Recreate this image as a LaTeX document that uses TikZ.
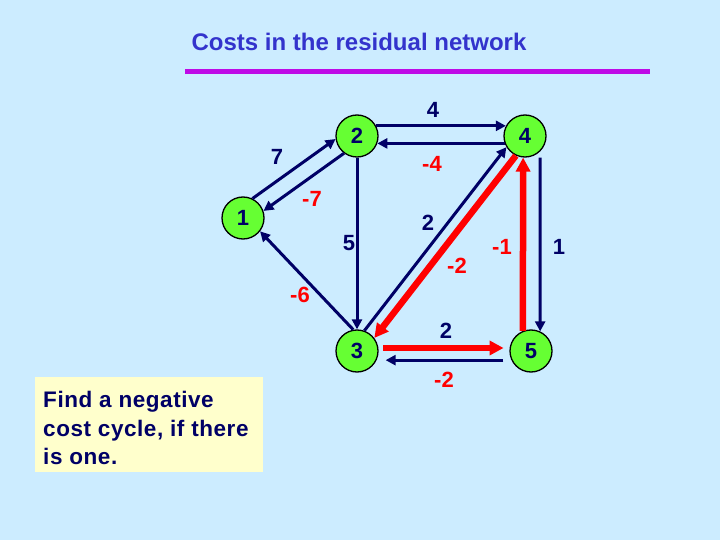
\documentclass[tikz,border=0pt]{standalone}
\usepackage{fontspec}
\setmainfont{Liberation Sans}
\newfontfamily\notefont[LetterSpace=2.5]{Liberation Sans}
\usetikzlibrary{arrows.meta, positioning}
\definecolor{slidebg}{RGB}{204,236,255}
\definecolor{titleblue}{RGB}{51,51,204}
\definecolor{rulemag}{RGB}{190,10,230}
\definecolor{nodegreen}{RGB}{102,255,51}
\definecolor{navy}{RGB}{0,0,102}
\definecolor{hotred}{RGB}{255,0,0}
\definecolor{notecream}{RGB}{255,255,204}

\begin{document}
\begin{tikzpicture}[x=1pt, y=-1pt,
    vertex/.style={circle, draw=black, line width=1.3pt, fill=nodegreen, minimum size=42pt, inner sep=0pt, font=\fontsize{22}{22}\selectfont\bfseries, text=navy},
    cost/.style={font=\fontsize{22}{22}\selectfont\bfseries, text=navy},
    negcost/.style={font=\fontsize{22}{22}\selectfont\bfseries, text=hotred},
    arc/.style={-{Triangle[length=10pt, width=10pt]}, line width=3pt, draw=navy},
    cyclearc/.style={-{Triangle[length=14pt, width=14pt]}, line width=6.5pt, draw=hotred}
]

% ── Slide background ──
\useasboundingbox (0,0) rectangle (720,540);
\fill[slidebg] (0,0) rectangle (720,540);

% Title and rule
\node[font=\fontsize{24}{24}\selectfont\bfseries, text=titleblue] (title) at (359,42) {Costs in the residual network};
\draw[rulemag, line width=5pt] (185,72) -- (650,72);

% ── Vertices ──
\node[vertex] (v1) at (243,218) {1};
\node[vertex] (v2) at (357,136) {2};
\node[vertex] (v4) at (525,136) {4};
\node[vertex] (v3) at (357,351) {3};
\node[vertex] (v5) at (531,351) {5};

% ── Residual arcs ──
\draw[arc] (v1.64) -- (v2.188);
\draw[arc] (v2.233) -- (v1.19);
\draw[arc] (v2.28) -- (v4.152);
\draw[arc] (v4.200) -- (v2.340);
\draw[arc] (v2) -- (v3);
\draw[arc] (v3.100) -- (v1.322);
\draw[arc] (v3.70) -- (v4.211);
\draw[arc] ([xshift=15pt]v4.south) -- (v5.65);
\draw[arc, shorten <=8pt, shorten >=9pt] (v5.205) -- (v3.335);

% Negative cycle
\draw[cyclearc] (v4.245) -- (v3.37);
\draw[cyclearc, shorten <=5pt, shorten >=6pt] (v3.8) -- (v5.172);
\draw[cyclearc] (v5.112) -- (v4.265);

% ── Costs ──
\node[cost] (c12) at (277,157) {7};
\node[negcost] (c21) at (312,199) {-7};
\node[cost] (c24) at (433,110) {4};
\node[negcost] (c42) at (432,164) {-4};
\node[cost] (c23) at (349,243) {5};
\node[negcost] (c31) at (300,295) {-6};
\node[cost] (c34) at (428,223) {2};
\node[negcost] (c43) at (457,266) {-2};
\node[negcost] (c54) at (502,247) {-1};
\node[cost] (c45) at (559,247) {1};
\node[cost] (c35) at (446,331) {2};
\node[negcost] (c53) at (444,380) {-2};

% ── Note ──
\fill[notecream] (35,377) rectangle (263,472);
\node[anchor=north west, inner sep=0pt, align=left, text=navy, font=\notefont\fontsize{22.5}{28.5}\selectfont\bfseries] (note) at (43,391) {Find a negative\\cost cycle, if there\\is one.};

\end{tikzpicture}
\end{document}
